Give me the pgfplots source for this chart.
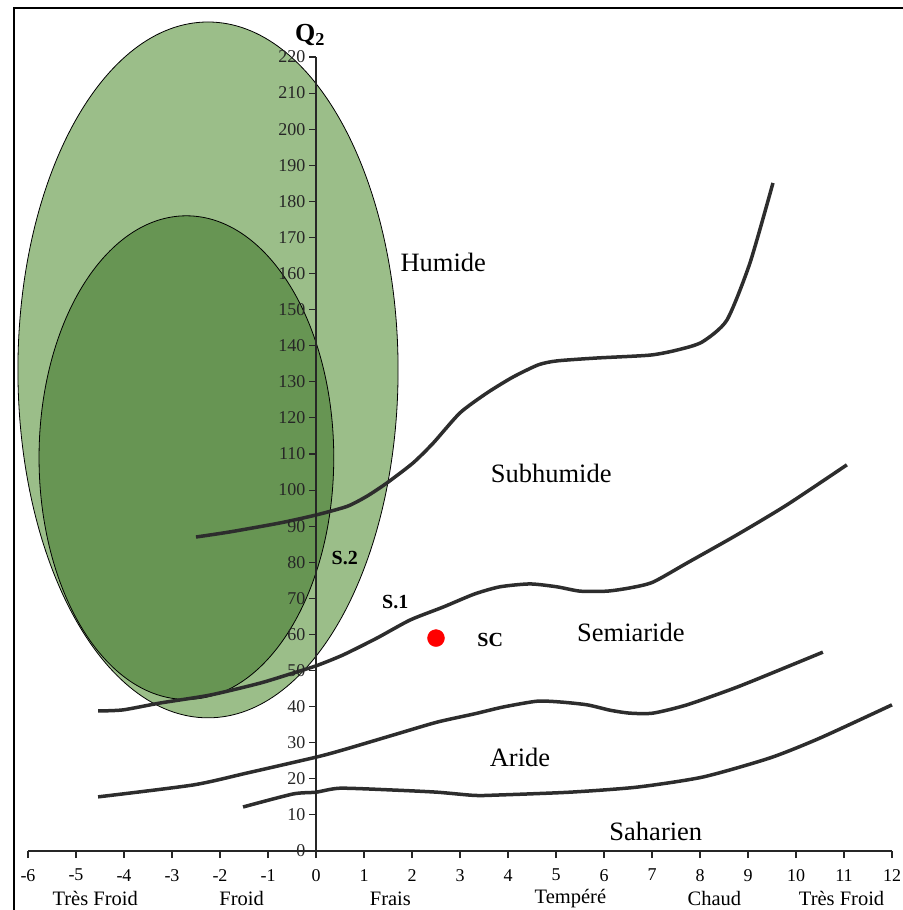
\documentclass[border=0pt]{standalone}
\usepackage{pgfplots}
\pgfplotsset{compat=1.18}
\usepackage{fontspec}
\setmainfont{Liberation Serif}
\definecolor{lightg}{RGB}{155,190,137}
\definecolor{darkg}{RGB}{103,149,83}
\definecolor{curvec}{RGB}{45,45,45}
\tikzset{catlab/.style={font=\fontsize{20.5}{20.5}\selectfont, yshift=-47.5pt, inner sep=1pt}}
\begin{document}
\begin{tikzpicture}
\useasboundingbox (0pt,0pt) rectangle (902pt,-910pt);
\draw[line width=2pt] (14pt,-911pt) -- (14pt,-8pt) -- (903pt,-8pt);
\begin{axis}[
  at={(28pt,-851pt)}, anchor=south west,
  scale only axis, width=864pt, height=794pt,
  xmin=-6, xmax=12, ymin=0, ymax=220,
  clip=false,
  axis x line=bottom, axis y line=middle,
  axis line style={-, line width=1.3pt, black!85},
  hide obscured x ticks=false, hide obscured y ticks=false,
  xtick={-6,-5,...,12}, ytick={0,10,...,220},
  xticklabels={-6,-5,-4,-3,-2,-1,0,1,2,3,4,5,6,7,8,9,10,11,12},
  tick align=outside, major tick length=7pt,
  tick style={line width=1.1pt, black!85},
  xticklabel style={font=\fontsize{18}{18}\selectfont, yshift=-10pt, inner sep=1pt},
  yticklabel style={font=\fontsize{18}{18}\selectfont, text=black!85},
  /pgf/number format/assume math mode=true,
  axis on top,
]
\draw[fill=lightg, line width=0.8pt] (axis cs:-2.25,133.3) ellipse [x radius=3.96, y radius=96.4];
\draw[fill=darkg, line width=0.8pt] (axis cs:-2.7,109) ellipse [x radius=3.07, y radius=67];

\addplot[curvec, line width=3.5pt, smooth, tension=0.4] coordinates {
(-2.5,87.0) (-1.8,88.4) (-0.75,90.9) (0,93.1) (0.65,95.5) (1.06,98.3) (1.48,102) (2.02,107.5) (2.44,113) (3.0,121.4) (3.56,126.9) (4.1,131.3) (4.63,134.7) (5.02,135.8) (5.85,136.6) (6.96,137.4) (7.52,138.8) (8.04,141) (8.56,147.1) (9.04,162.9) (9.52,185.1)};
\addplot[curvec, line width=3.5pt, smooth, tension=0.4] coordinates {
(-4.54,38.8) (-4.02,39.1) (-3.25,41) (-2.21,43.2) (-1.17,46.5) (-0.48,49.3) (0,51.3) (0.56,54.3) (1.27,59) (1.96,64) (2.65,67.6) (3.3,71.2) (3.83,73.2) (4.46,74) (5.02,73.2) (5.5,72) (6.06,72) (6.54,72.9) (7.02,74.5) (7.73,79.8) (8.77,87.6) (9.81,95.9) (11.06,107)};
\addplot[curvec, line width=3.5pt, smooth, tension=0.4] coordinates {
(-4.54,15) (-2.56,18.3) (-1.44,21.6) (0,26) (0.56,28) (1.6,32.1) (2.52,35.7) (3.3,38) (3.9,39.9) (4.6,41.5) (5.08,41.3) (5.65,40.5) (6.13,39) (6.54,38.2) (7.02,38.2) (7.73,40.5) (8.77,45.4) (9.81,51) (10.56,55.1)};
\addplot[curvec, line width=3.5pt, smooth, tension=0.4] coordinates {
(-1.52,12.2) (-0.48,15.8) (0,16.3) (0.5,17.4) (1.6,16.9) (2.52,16.3) (3.3,15.4) (3.77,15.5) (5.29,16.3) (6.69,17.7) (8.06,20.5) (9.46,25.8) (10.5,31.3) (12,40.5)};

\addplot[only marks, mark=*, mark size=8.5pt, red, mark options={draw=red, fill=red}] coordinates {(2.5,59)};

\node[font=\fontsize{26.5}{26.5}\selectfont] at (axis cs:2.65,163.2) {Humide};
\node[font=\fontsize{26.5}{26.5}\selectfont] at (axis cs:4.9,104.5) {Subhumide};
\node[font=\fontsize{26.5}{26.5}\selectfont] at (axis cs:6.56,60.7) {Semiaride};
\node[font=\fontsize{26.5}{26.5}\selectfont] at (axis cs:4.25,26) {Aride};
\node[font=\fontsize{26.5}{26.5}\selectfont] at (axis cs:7.08,5.3) {Saharien};
\node[font=\fontsize{20}{20}\selectfont\bfseries] at (axis cs:0.6,81.2) {S.2};
\node[font=\fontsize{20}{20}\selectfont\bfseries] at (axis cs:1.65,69) {S.1};
\node[font=\fontsize{20}{20}\selectfont\bfseries] at (axis cs:3.63,58.5) {SC};

\node[catlab] at (axis cs:-4.6,0) {Très Froid};
\node[catlab] at (axis cs:-1.55,0) {Froid};
\node[catlab] at (axis cs:1.55,0) {Frais};
\node[catlab] at (axis cs:5.3,0) {Tempéré};
\node[catlab] at (axis cs:8.3,0) {Chaud};
\node[catlab] at (axis cs:10.95,0) {Très Froid};
\end{axis}
\node[font=\fontsize{26}{26}\selectfont\bfseries] at (310pt,-35pt) {Q\textsubscript{2}};
\end{tikzpicture}
\end{document}
